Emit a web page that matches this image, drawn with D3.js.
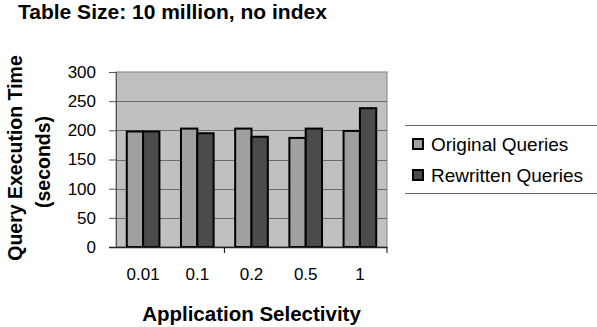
<!DOCTYPE html>
<html>
<head>
<meta charset="utf-8">
<script src="https://cdn.jsdelivr.net/npm/d3@7"></script>
<style>
  html, body { margin: 0; padding: 0; background: #fff; }
  svg { display: block; font-family: "Liberation Sans", Arial, sans-serif; }
</style>
</head>
<body>
<svg id="chart" width="597" height="327"></svg>
<script>
// Query time per selectivity level, 10M-row table without an index
const categories = ["0.01", "0.1", "0.2", "0.5", "1"];
const originalQueries = [198, 203, 203, 187, 199];
const rewrittenQueries = [198, 195, 189, 203, 238];
const seriesNames = ["Original Queries", "Rewritten Queries"];
const yTicks = [0, 50, 100, 150, 200, 250, 300];

const colors = ["#a0a0a0", "#4b4b4b"];
const FONT = "'Liberation Sans', Arial, sans-serif";
const svg = d3.select("#chart");

const plot = { left: 116, right: 387, top: 72, bottom: 247 };

const x = d3.scaleBand().domain(categories).range([plot.left, plot.right]);
const x1 = d3.scaleBand().domain(seriesNames)
  .range([0, x.bandwidth()]).paddingOuter(0.66).paddingInner(0);
const y = d3.scaleLinear().domain([0, 300]).range([plot.bottom, plot.top]);

// Plot background
svg.append("rect")
  .attr("x", plot.left).attr("y", plot.top)
  .attr("width", plot.right - plot.left).attr("height", plot.bottom - plot.top)
  .attr("fill", "#c0c0c0").attr("stroke", "#808080").attr("stroke-width", 1);

// Horizontal gridlines
svg.append("g").selectAll("line")
  .data(yTicks.filter(d => d > 0 && d < 300))
  .join("line")
  .attr("x1", plot.left).attr("x2", plot.right)
  .attr("y1", d => Math.round(y(d)) + 0.5).attr("y2", d => Math.round(y(d)) + 0.5)
  .attr("stroke", "#6a6a6a").attr("stroke-width", 1);

// Y axis
const yAxis = d3.axisLeft(y).tickValues(yTicks).tickSize(7).tickPadding(13);
const gy = svg.append("g")
  .attr("transform", `translate(${plot.left},0)`)
  .call(yAxis);
gy.select(".domain").attr("stroke", "#555");
gy.selectAll(".tick line").attr("stroke", "#555");
gy.selectAll(".tick text")
  .attr("font-size", 17).attr("fill", "#000")
  .attr("font-family", FONT);

// Bars
const rows = categories.map((c, i) => ({
  cat: c,
  vals: [originalQueries[i], rewrittenQueries[i]]
}));
const groups = svg.append("g").selectAll("g")
  .data(rows).join("g")
  .attr("transform", d => `translate(${x(d.cat)},0)`);
groups.selectAll("rect")
  .data(d => d.vals.map((v, j) => ({ name: seriesNames[j], v, j })))
  .join("rect")
  .attr("x", d => x1(d.name))
  .attr("width", x1.bandwidth())
  .attr("y", d => y(d.v))
  .attr("height", d => y(0) - y(d.v))
  .attr("fill", d => colors[d.j])
  .attr("stroke", "#000").attr("stroke-width", 2);

// X axis line, category labels and boundary ticks
const xAxis = d3.axisBottom(x).tickSize(0).tickPadding(21);
const gx = svg.append("g")
  .attr("transform", `translate(0,${plot.bottom})`)
  .call(xAxis);
gx.select(".domain").remove();
gx.selectAll(".tick text")
  .attr("font-size", 17).attr("fill", "#000")
  .attr("font-family", FONT);
svg.append("line")
  .attr("x1", plot.left - 7).attr("x2", plot.right)
  .attr("y1", plot.bottom + 0.5).attr("y2", plot.bottom + 0.5)
  .attr("stroke", "#222").attr("stroke-width", 1.5);
const boundaryIdx = [2, 5];
svg.append("g").selectAll("line")
  .data(boundaryIdx).join("line")
  .attr("x1", i => (i < categories.length ? x(categories[i]) : plot.right))
  .attr("x2", i => (i < categories.length ? x(categories[i]) : plot.right))
  .attr("y1", plot.bottom).attr("y2", plot.bottom + 6)
  .attr("stroke", "#000").attr("stroke-width", 1);

// Titles
svg.append("text")
  .attr("x", 18).attr("y", 19)
  .attr("font-size", 21).attr("font-weight", "bold")
  .text("Table Size: 10 million, no index");

svg.append("text")
  .attr("x", (plot.left + plot.right) / 2).attr("y", 321)
  .attr("text-anchor", "middle")
  .attr("font-size", 20.5).attr("font-weight", "bold")
  .text("Application Selectivity");

svg.append("text")
  .attr("transform", "translate(22,158) rotate(-90)")
  .attr("text-anchor", "middle")
  .attr("font-size", 19.5).attr("font-weight", "bold")
  .text("Query Execution Time");
svg.append("text")
  .attr("transform", "translate(50,162) rotate(-90)")
  .attr("text-anchor", "middle")
  .attr("font-size", 19.5).attr("font-weight", "bold")
  .text("(seconds)");

// Legend
const legend = svg.append("g");
legend.append("line")
  .attr("x1", 405).attr("x2", 597).attr("y1", 125.5).attr("y2", 125.5)
  .attr("stroke", "#666");
legend.append("line")
  .attr("x1", 405).attr("x2", 597).attr("y1", 193.5).attr("y2", 193.5)
  .attr("stroke", "#666");
const items = legend.selectAll("g.item")
  .data(seriesNames).join("g")
  .attr("class", "item")
  .attr("transform", (d, i) => `translate(413,${139 + i * 31})`);
items.append("rect")
  .attr("width", 10).attr("height", 10)
  .attr("fill", (d, i) => colors[i])
  .attr("stroke", "#000").attr("stroke-width", 2);
items.append("text")
  .attr("x", 18).attr("y", 12)
  .attr("font-size", 19)
  .text(d => d);
</script>
</body>
</html>
